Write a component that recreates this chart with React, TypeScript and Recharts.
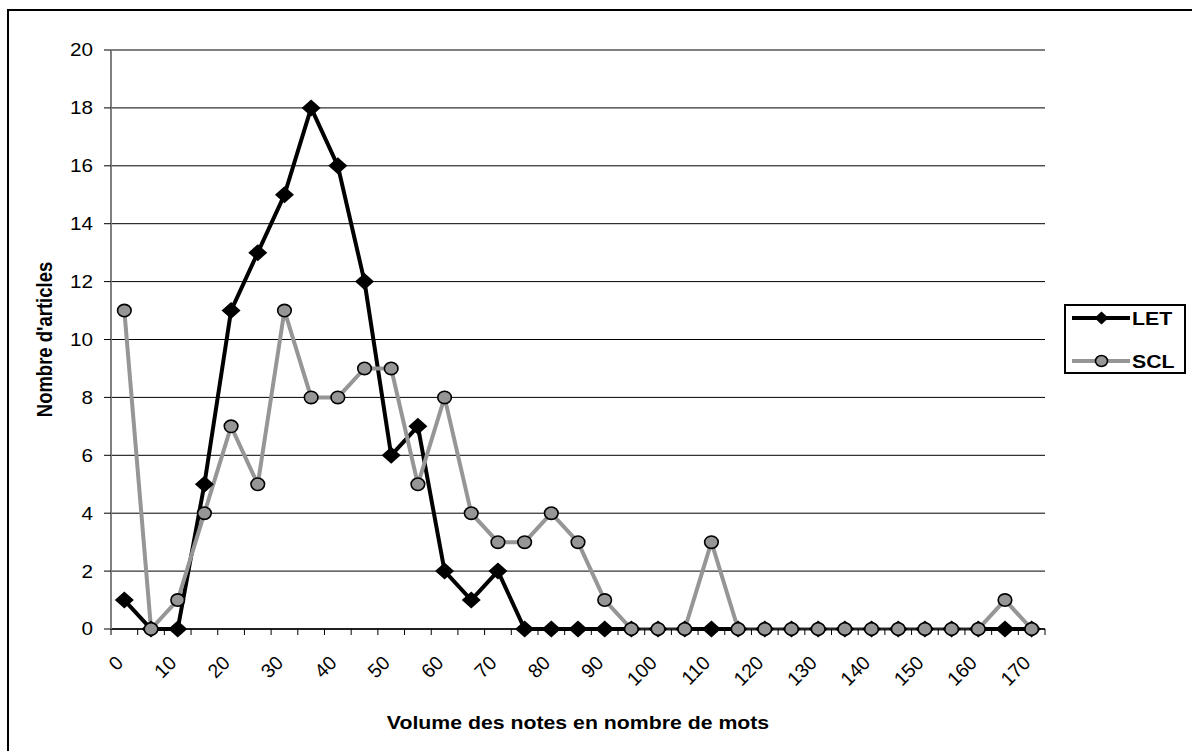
import React from 'react';
import { LineChart, Line, XAxis, YAxis, CartesianGrid, Label } from 'recharts';

const categories = [0, 5, 10, 15, 20, 25, 30, 35, 40, 45, 50, 55, 60, 65, 70, 75, 80, 85, 90, 95, 100, 105, 110, 115, 120, 125, 130, 135, 140, 145, 150, 155, 160, 165, 170];
const letValues = [1, 0, 0, 5, 11, 13, 15, 18, 16, 12, 6, 7, 2, 1, 2, 0, 0, 0, 0, 0, 0, 0, 0, 0, 0, 0, 0, 0, 0, 0, 0, 0, 0, 0, 0];
const sclValues = [11, 0, 1, 4, 7, 5, 11, 8, 8, 9, 9, 5, 8, 4, 3, 3, 4, 3, 1, 0, 0, 0, 3, 0, 0, 0, 0, 0, 0, 0, 0, 0, 0, 1, 0];
const yTicks = [0, 2, 4, 6, 8, 10, 12, 14, 16, 18, 20];
const xTickLabels = ['0', '', '10', '', '20', '', '30', '', '40', '', '50', '', '60', '', '70', '', '80', '', '90', '', '100', '', '110', '', '120', '', '130', '', '140', '', '150', '', '160', '', '170'];
const seriesNames = ['LET', 'SCL'];
const xTitle = 'Volume des notes en nombre de mots';
const yTitle = "Nombre d'articles";

const W = 1192;
const H = 751;
const MARGIN = { top: 50, right: 147, bottom: 0, left: 0 };
const Y_AXIS_W = 111;
const X_AXIS_H = 122;
const PLOT_W = W - MARGIN.left - MARGIN.right - Y_AXIS_W;
const BAND = PLOT_W / categories.length;
const FONT = '"Liberation Sans", Arial, sans-serif';
const GRAY = '#969696';
const SX = 1.15;
const TICK_FS = 18;
const XTICK_FS = 19.5;
const TITLE_FS = 18.5;

const data = categories.map((c, i) => ({ x: c, LET: letValues[i], SCL: sclValues[i] }));

function XTick(props: any) {
  const { x, y, payload } = props;
  const i = categories.indexOf(payload.value);
  const half = BAND / 2;
  const label = xTickLabels[i];
  const ax = x;
  const ay = y + 35;
  return (
    <g>
      <line x1={x - half} x2={x - half} y1={y} y2={y + 6} stroke="#000" strokeWidth={1} />
      {i === categories.length - 1 && (
        <line x1={x + half} x2={x + half} y1={y} y2={y + 6} stroke="#000" strokeWidth={1} />
      )}
      {label && (
        <text
          x={0}
          y={0}
          transform={`translate(${ax} ${ay}) rotate(-45)`}
          textAnchor="end"
          fontSize={XTICK_FS}
          fontFamily={FONT}
          fill="#000"
        >
          {label}
        </text>
      )}
    </g>
  );
}

function YTick(props: any) {
  const { x, y, payload } = props;
  return (
    <text
      x={0}
      y={0}
      dy="0.36em"
      transform={`translate(${x} ${y}) scale(${SX} 1)`}
      textAnchor="end"
      fontSize={TICK_FS}
      fontFamily={FONT}
      fill="#000"
    >
      {payload.value}
    </text>
  );
}

function Diamond(props: any) {
  const { cx, cy } = props;
  const sx = 9.5;
  const sy = 8.5;
  if (cx == null || cy == null) return <g />;
  return <path d={`M${cx},${cy - sy}L${cx + sx},${cy}L${cx},${cy + sy}L${cx - sx},${cy}Z`} fill="#000" />;
}

function Circle(props: any) {
  const { cx, cy } = props;
  if (cx == null || cy == null) return <g />;
  return <ellipse cx={cx} cy={cy} rx={6.8} ry={6.2} fill={GRAY} stroke="#000" strokeWidth={1.6} />;
}

function Legend() {
  return (
    <div
      style={{
        position: 'absolute',
        left: 1064,
        top: 304,
        width: 118,
        height: 66,
        border: '2px solid #000',
        background: '#fff',
      }}
    >
      <svg width={118} height={66} style={{ display: 'block' }}>
        <line x1={6} x2={64} y1={12} y2={12} stroke="#000" strokeWidth={4} />
        <path d="M35.5,5.5L42.5,12L35.5,18.5L28.5,12Z" fill="#000" />
        <text x={0} y={0} transform={`translate(66 19) scale(${SX} 1)`} fontSize={TITLE_FS} fontWeight="bold" fontFamily={FONT} fill="#000">{seriesNames[0]}</text>
        <line x1={6} x2={64} y1={55} y2={55} stroke={GRAY} strokeWidth={4} />
        <ellipse cx={35.5} cy={55} rx={6} ry={5.5} fill={GRAY} stroke="#000" strokeWidth={1.6} />
        <text x={0} y={0} transform={`translate(66 62) scale(${SX} 1)`} fontSize={TITLE_FS} fontWeight="bold" fontFamily={FONT} fill="#000">{seriesNames[1]}</text>
      </svg>
    </div>
  );
}

export default function App() {
  return (
    <div style={{ position: 'fixed', left: 0, top: 0, width: W, height: H, background: '#fff', overflow: 'hidden' }}>
      <div
        style={{
          position: 'absolute',
          left: 7,
          top: 9,
          width: W,
          height: H,
          borderTop: '2px solid #000',
          borderLeft: '2px solid #000',
        }}
      />
      <div style={{ position: 'absolute', left: 0, top: 0 }}>
        <LineChart width={W} height={H} data={data} margin={MARGIN}>
          <CartesianGrid horizontal={true} vertical={false} stroke="#000" strokeWidth={1} />
          <XAxis
            dataKey="x"
            type="category"
            height={X_AXIS_H}
            interval={0}
            tick={<XTick />}
            tickLine={false}
            tickSize={0}
            tickMargin={0}
            padding={{ left: BAND / 2, right: BAND / 2 }}
            axisLine={{ stroke: '#000', strokeWidth: 1.5 }}
          >
            <Label
              content={(p: any) => {
                const vb = p.viewBox || {};
                const cx = vb.x + vb.width / 2;
                const cy = vb.y + 100;
                return (
                  <text
                    x={0}
                    y={0}
                    transform={`translate(${cx} ${cy}) scale(${SX} 1)`}
                    textAnchor="middle"
                    fontSize={TITLE_FS}
                    fontWeight="bold"
                    fontFamily={FONT}
                    fill="#000"
                  >
                    {xTitle}
                  </text>
                );
              }}
            />
          </XAxis>
          <XAxis
            xAxisId="top"
            dataKey="x"
            orientation="top"
            height={0}
            tick={false}
            tickLine={false}
            axisLine={{ stroke: GRAY, strokeWidth: 2 }}
          />
          <YAxis
            width={Y_AXIS_W}
            domain={[0, 20]}
            ticks={yTicks}
            interval={0}
            tickSize={7}
            tickMargin={11}
            tickLine={{ stroke: '#000' }}
            axisLine={{ stroke: '#808080', strokeWidth: 2 }}
            tick={<YTick />}
          >
            <Label
              content={(p: any) => {
                const vb = p.viewBox || {};
                const cx = 45;
                const cy = vb.y + vb.height / 2;
                return (
                  <text
                    x={0}
                    y={0}
                    transform={`translate(${cx} ${cy}) scale(${SX} 1) rotate(-90)`}
                    textAnchor="middle"
                    dominantBaseline="central"
                    fontSize={TITLE_FS}
                    fontWeight="bold"
                    fontFamily={FONT}
                    fill="#000"
                  >
                    {yTitle}
                  </text>
                );
              }}
            />
          </YAxis>
          <YAxis
            yAxisId="right"
            orientation="right"
            width={0}
            domain={[0, 20]}
            tick={false}
            tickLine={false}
            axisLine={{ stroke: GRAY, strokeWidth: 2 }}
          />
          <Line
            type="linear"
            dataKey="LET"
            stroke="#000"
            strokeWidth={4}
            dot={(p: any) => <Diamond key={`d-${p.index}`} {...p} />}
            activeDot={false}
            isAnimationActive={false}
          />
          <Line
            type="linear"
            dataKey="SCL"
            stroke={GRAY}
            strokeWidth={4}
            dot={(p: any) => <Circle key={`c-${p.index}`} {...p} />}
            activeDot={false}
            isAnimationActive={false}
          />
        </LineChart>
      </div>
      <Legend />
    </div>
  );
}
